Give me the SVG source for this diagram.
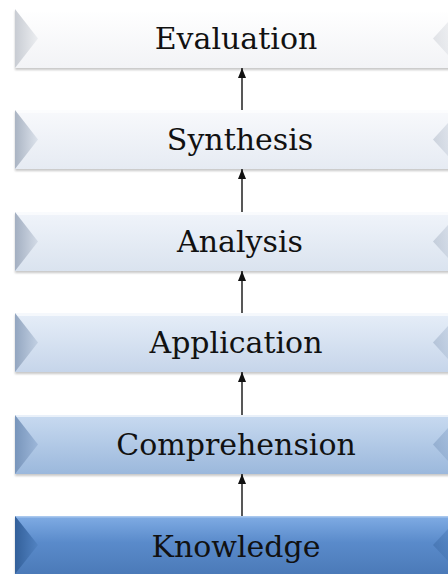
<svg xmlns="http://www.w3.org/2000/svg" width="448" height="574" viewBox="0 0 448 574">
<defs>
  <style>
    .lbl { font-family: "DejaVu Serif", "Liberation Serif", serif; font-size: 30px; fill: #111111; text-anchor: middle; }
    .conn { stroke: #111; stroke-width: 1.4; fill: none; }
    .shadow { fill: #9a9a9a; opacity: 0.55; filter: url(#blur); }
    .hl { fill: #ffffff; opacity: 0.6; }
  </style>
  <filter id="blur" x="-5%" y="-20%" width="110%" height="140%"><feGaussianBlur stdDeviation="1.2"/></filter>
  <marker id="arr" markerWidth="10" markerHeight="8" refX="10" refY="4" orient="auto" markerUnits="userSpaceOnUse" viewBox="0 0 10 8">
    <path d="M0,0 L10,4 L0,8 Z" fill="#111"/>
  </marker>
  <linearGradient id="g1" x1="0" y1="0" x2="0" y2="1"><stop offset="0" stop-color="#ffffff"/><stop offset="1" stop-color="#f2f3f6"/></linearGradient>
  <linearGradient id="g2" x1="0" y1="0" x2="0" y2="1"><stop offset="0" stop-color="#f8f9fc"/><stop offset="1" stop-color="#e6ebf3"/></linearGradient>
  <linearGradient id="g3" x1="0" y1="0" x2="0" y2="1"><stop offset="0" stop-color="#f0f4fa"/><stop offset="1" stop-color="#dae3ef"/></linearGradient>
  <linearGradient id="g4" x1="0" y1="0" x2="0" y2="1"><stop offset="0" stop-color="#e6eef8"/><stop offset="1" stop-color="#c6d5ea"/></linearGradient>
  <linearGradient id="g5" x1="0" y1="0" x2="0" y2="1"><stop offset="0" stop-color="#c8daf0"/><stop offset="1" stop-color="#9bb8dc"/></linearGradient>
  <linearGradient id="g6" x1="0" y1="0" x2="0" y2="1"><stop offset="0" stop-color="#80ace4"/><stop offset="0.45" stop-color="#5a8bcb"/><stop offset="1" stop-color="#4b7ab8"/></linearGradient>
  <linearGradient id="t1" x1="0" y1="0" x2="1" y2="0"><stop offset="0" stop-color="#c8ccd3"/><stop offset="1" stop-color="#eceef1"/></linearGradient>
  <linearGradient id="t2" x1="0" y1="0" x2="1" y2="0"><stop offset="0" stop-color="#aab4c3"/><stop offset="1" stop-color="#dde3ec"/></linearGradient>
  <linearGradient id="t3" x1="0" y1="0" x2="1" y2="0"><stop offset="0" stop-color="#a3afc1"/><stop offset="1" stop-color="#d3dbe7"/></linearGradient>
  <linearGradient id="t4" x1="0" y1="0" x2="1" y2="0"><stop offset="0" stop-color="#93a6c0"/><stop offset="1" stop-color="#c2d0e3"/></linearGradient>
  <linearGradient id="t5" x1="0" y1="0" x2="1" y2="0"><stop offset="0" stop-color="#7895bb"/><stop offset="1" stop-color="#9db7d9"/></linearGradient>
  <linearGradient id="t6" x1="0" y1="0" x2="1" y2="0"><stop offset="0" stop-color="#33609a"/><stop offset="1" stop-color="#5283c2"/></linearGradient>
</defs>
<rect width="448" height="574" fill="#ffffff"/>

<g id="evaluation">
  <rect class="shadow" x="15" y="11" width="445" height="59"/>
  <rect x="15" y="9" width="445" height="59" fill="url(#g1)"/>
  <rect class="hl" x="15" y="9" width="445" height="3"/>
  <polygon points="15,9 38,38.5 15,68" fill="url(#t1)"/>
  <polygon points="460,9 433,38.5 460,68" fill="url(#t1)" opacity="0.5"/>
  <text class="lbl" x="236" y="49">Evaluation</text>
</g>

<g id="synthesis">
  <rect class="shadow" x="15" y="112" width="445" height="59"/>
  <rect x="15" y="110" width="445" height="59" fill="url(#g2)"/>
  <rect class="hl" x="15" y="110" width="445" height="3"/>
  <polygon points="15,110 38,139.5 15,169" fill="url(#t2)"/>
  <polygon points="460,110 433,139.5 460,169" fill="url(#t2)" opacity="0.5"/>
  <text class="lbl" x="240" y="150">Synthesis</text>
</g>

<g id="analysis">
  <rect class="shadow" x="15" y="214" width="445" height="59"/>
  <rect x="15" y="212" width="445" height="59" fill="url(#g3)"/>
  <rect class="hl" x="15" y="212" width="445" height="3"/>
  <polygon points="15,212 38,241.5 15,271" fill="url(#t3)"/>
  <polygon points="460,212 433,241.5 460,271" fill="url(#t3)" opacity="0.5"/>
  <text class="lbl" x="240" y="252">Analysis</text>
</g>

<g id="application">
  <rect class="shadow" x="15" y="315" width="445" height="59"/>
  <rect x="15" y="313" width="445" height="59" fill="url(#g4)"/>
  <rect class="hl" x="15" y="313" width="445" height="3"/>
  <polygon points="15,313 38,342.5 15,372" fill="url(#t4)"/>
  <polygon points="460,313 433,342.5 460,372" fill="url(#t4)" opacity="0.5"/>
  <text class="lbl" x="236" y="353">Application</text>
</g>

<g id="comprehension">
  <rect class="shadow" x="15" y="417" width="445" height="59"/>
  <rect x="15" y="415" width="445" height="59" fill="url(#g5)"/>
  <rect class="hl" x="15" y="415" width="445" height="2"/>
  <polygon points="15,415 38,444.5 15,474" fill="url(#t5)"/>
  <polygon points="460,415 433,444.5 460,474" fill="url(#t5)" opacity="0.5"/>
  <text class="lbl" x="236" y="455">Comprehension</text>
</g>

<g id="knowledge">
  <rect class="shadow" x="15" y="518" width="445" height="58"/>
  <rect x="15" y="516" width="445" height="58" fill="url(#g6)"/>
  <rect x="15" y="516" width="445" height="1.5" fill="#a9c8ee"/>
  <polygon points="15,516 38,545 15,574" fill="url(#t6)"/>
  <polygon points="460,516 433,545 460,574" fill="url(#t6)" opacity="0.4"/>
  <text class="lbl" x="236" y="557">Knowledge</text>
</g>

<g id="connectors">
  <line class="conn" x1="242" y1="110" x2="242" y2="68" marker-end="url(#arr)"/>
  <line class="conn" x1="242" y1="212" x2="242" y2="169" marker-end="url(#arr)"/>
  <line class="conn" x1="242" y1="313" x2="242" y2="271" marker-end="url(#arr)"/>
  <line class="conn" x1="242" y1="415" x2="242" y2="372" marker-end="url(#arr)"/>
  <line class="conn" x1="242" y1="516" x2="242" y2="474" marker-end="url(#arr)"/>
</g>
</svg>
